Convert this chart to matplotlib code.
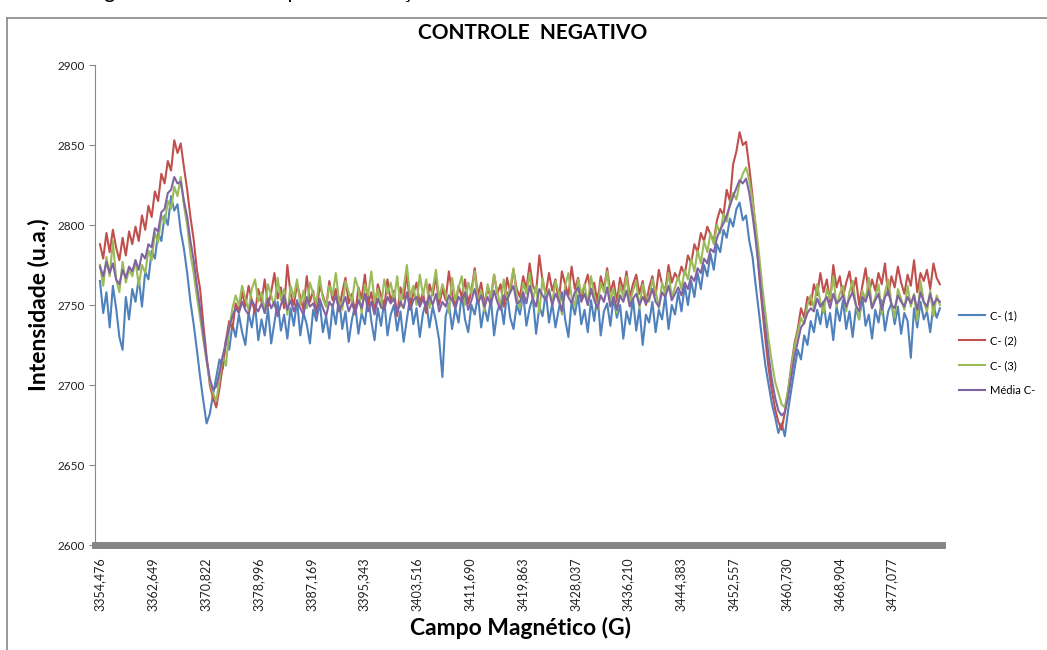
import numpy as np
import matplotlib
matplotlib.use("Agg")
from matplotlib import pyplot as plt
from matplotlib.lines import Line2D

plt.rcParams['font.family'] = ['Lato', 'DejaVu Sans']

# campo magnetico: primeiro ponto e passo (G)
field_start = 3354.476
field_step = 0.5

tick_fields = [3354.476, 3362.649, 3370.822, 3378.996, 3387.169, 3395.343,
               3403.516, 3411.690, 3419.863, 3428.037, 3436.210, 3444.383,
               3452.557, 3460.730, 3468.904, 3477.077]

c1 = [2765, 2745, 2758, 2736, 2762, 2748, 2730, 2722, 2755, 2741,
      2760, 2752, 2767, 2749, 2771, 2766, 2784, 2779, 2795, 2790,
      2806, 2800, 2818, 2809, 2813, 2796, 2785, 2770, 2752, 2738,
      2722, 2705, 2690, 2676, 2682, 2694, 2705, 2716, 2710, 2728,
      2722, 2738, 2730, 2744, 2733, 2725, 2745, 2736, 2750, 2728,
      2741, 2731, 2748, 2726, 2739, 2752, 2734, 2744, 2729, 2748,
      2737, 2753, 2731, 2745, 2738, 2726, 2747, 2740, 2752, 2733,
      2743, 2729, 2749, 2738, 2755, 2735, 2746, 2727, 2741, 2750,
      2732, 2745, 2738, 2756, 2740, 2728, 2748, 2737, 2753, 2731,
      2744, 2750, 2734, 2746, 2727, 2741, 2755, 2738, 2748, 2730,
      2745, 2752, 2736, 2749, 2740, 2728, 2705, 2743, 2751, 2735,
      2748, 2739, 2757, 2741, 2733, 2750, 2744, 2756, 2736, 2749,
      2740, 2754, 2731, 2746, 2752, 2738, 2758, 2742, 2735, 2750,
      2744, 2757, 2737, 2748, 2755, 2732, 2749, 2743, 2758, 2739,
      2751, 2736, 2747, 2758, 2741, 2730, 2752, 2744, 2756, 2738,
      2747, 2733, 2753, 2740, 2757, 2731, 2746, 2751, 2737, 2755,
      2742, 2750, 2729, 2746, 2738, 2754, 2734, 2748, 2725, 2744,
      2739, 2752, 2733, 2747, 2741, 2756, 2735, 2750, 2744, 2758,
      2746, 2762, 2750, 2765, 2755, 2770, 2760, 2775, 2768, 2782,
      2772, 2788, 2783, 2797, 2792, 2804, 2799, 2810, 2814, 2803,
      2806, 2790, 2780, 2762, 2745, 2728, 2712, 2700, 2688, 2680,
      2670, 2676, 2668, 2684, 2697, 2710, 2722, 2716, 2731, 2725,
      2740, 2733, 2747, 2738, 2752, 2736, 2745, 2728, 2749, 2740,
      2753, 2735, 2746, 2730, 2748, 2741, 2755, 2737, 2744, 2729,
      2747, 2739, 2753, 2734, 2746, 2751, 2738, 2749, 2732, 2745,
      2740, 2717, 2748, 2736, 2752, 2741, 2746, 2733, 2750, 2742,
      2748]

c2 = [2788, 2779, 2795, 2783, 2797, 2786, 2778, 2792, 2781, 2796,
      2788, 2799, 2790, 2806, 2797, 2812, 2805, 2821, 2815, 2832,
      2826, 2840, 2834, 2853, 2845, 2851, 2836, 2822, 2805, 2791,
      2772, 2760, 2738, 2718, 2700, 2692, 2686, 2698, 2712, 2728,
      2740, 2735, 2751, 2746, 2758, 2749, 2762, 2753, 2745, 2760,
      2752, 2766, 2749, 2758, 2770, 2754, 2761, 2748, 2775, 2757,
      2750, 2763, 2755, 2747, 2768, 2752, 2759, 2744, 2762, 2756,
      2749, 2765, 2753, 2760, 2746, 2758, 2767, 2751, 2757, 2744,
      2761, 2754, 2769, 2750, 2758, 2745, 2763, 2756, 2748, 2766,
      2752, 2759, 2743, 2761, 2754, 2770, 2749, 2757, 2764, 2751,
      2758, 2745, 2763, 2756, 2768, 2750, 2760, 2753, 2771, 2757,
      2748, 2762, 2755, 2766, 2751, 2759, 2773, 2756, 2764, 2750,
      2761, 2754, 2769, 2757, 2763, 2749, 2767, 2758, 2772, 2760,
      2755, 2768, 2760, 2776, 2762, 2758, 2781, 2765, 2757, 2770,
      2759, 2766, 2752, 2771, 2763, 2756, 2774, 2760, 2767, 2754,
      2762, 2769, 2757, 2764, 2751, 2768, 2760, 2773, 2758, 2765,
      2752, 2767, 2759, 2771, 2755, 2763, 2769, 2757, 2765, 2750,
      2761, 2768, 2756, 2772, 2763, 2759, 2775, 2764, 2770, 2766,
      2774, 2769, 2781, 2776, 2788, 2783, 2795, 2790, 2799, 2794,
      2790, 2803, 2810, 2806, 2822, 2815, 2838, 2846, 2858, 2850,
      2852, 2836, 2818, 2796, 2770, 2748, 2728, 2710, 2696, 2685,
      2677, 2672, 2683, 2696, 2712, 2726, 2735, 2748, 2742, 2755,
      2750, 2763, 2756, 2770, 2758, 2766, 2752, 2775, 2761, 2768,
      2755, 2764, 2771, 2758, 2767, 2750, 2762, 2773, 2757, 2766,
      2759, 2770, 2763, 2776, 2756, 2768, 2761, 2774, 2764, 2757,
      2769, 2762, 2778, 2758, 2770, 2765, 2772, 2760, 2776, 2767,
      2763]

c3 = [2775, 2762, 2780, 2768, 2790, 2766, 2758, 2777, 2764, 2772,
      2768, 2778, 2762, 2775, 2770, 2784, 2778, 2795, 2789, 2806,
      2801, 2815, 2810, 2824, 2818, 2830, 2812, 2800, 2782, 2770,
      2755, 2742, 2728, 2715, 2702, 2695, 2690, 2703, 2718, 2712,
      2735, 2748, 2756, 2750, 2762, 2754, 2747, 2760, 2766, 2752,
      2758, 2745, 2763, 2756, 2749, 2767, 2753, 2760, 2744, 2762,
      2755, 2766, 2750, 2759, 2748, 2764, 2757, 2751, 2768, 2754,
      2749, 2762, 2756, 2770, 2753, 2747, 2765, 2758, 2752, 2767,
      2760, 2745, 2763, 2756, 2771, 2752, 2760, 2748, 2766, 2757,
      2764, 2753, 2768, 2749, 2761, 2775, 2755, 2762, 2750, 2769,
      2756, 2766, 2748, 2760, 2772, 2754, 2763, 2757, 2745, 2767,
      2753, 2761, 2768, 2750, 2764, 2757, 2771, 2752, 2759, 2746,
      2763, 2755, 2769, 2758, 2749, 2766, 2752, 2761, 2773, 2756,
      2748, 2764, 2757, 2770, 2753, 2762, 2745, 2767, 2756, 2760,
      2751, 2765, 2758, 2744, 2762, 2770, 2755, 2749, 2766, 2757,
      2763, 2750, 2768, 2756, 2747, 2764, 2758, 2771, 2753, 2760,
      2745, 2762, 2755, 2768, 2751, 2759, 2765, 2748, 2763, 2756,
      2752, 2766, 2759, 2748, 2764, 2757, 2770, 2755, 2761, 2768,
      2760, 2772, 2766, 2779, 2771, 2784, 2776, 2790, 2783, 2795,
      2788, 2800, 2795, 2807, 2802, 2814, 2820, 2816, 2826, 2832,
      2836, 2828, 2815, 2800, 2782, 2762, 2745, 2728, 2714, 2702,
      2695, 2688, 2686, 2697, 2710, 2724, 2733, 2742, 2738, 2750,
      2756, 2748, 2763, 2752, 2745, 2760, 2754, 2768, 2749, 2757,
      2762, 2746, 2758, 2765, 2750, 2741, 2759, 2753, 2767, 2748,
      2755, 2763, 2744, 2758, 2766, 2751, 2742, 2760, 2754, 2747,
      2762, 2749, 2757, 2740, 2765, 2752, 2746, 2759, 2743, 2756,
      2750]

media = [2774, 2768, 2777, 2770, 2776, 2766, 2763, 2772, 2767, 2774,
         2771, 2778, 2772, 2782, 2779, 2788, 2786, 2798, 2796, 2808,
         2810, 2820, 2822, 2830, 2826, 2827, 2815, 2805, 2790, 2778,
         2762, 2748, 2732, 2716, 2704, 2697, 2699, 2708, 2718, 2727,
         2736, 2743, 2748, 2745, 2752, 2747, 2744, 2753, 2749, 2746,
         2751, 2745, 2754, 2748, 2752, 2743, 2750, 2756, 2747, 2753,
         2746, 2752, 2748, 2744, 2755, 2749, 2751, 2745, 2754, 2748,
         2743, 2752, 2749, 2756, 2747, 2750, 2755, 2746, 2751, 2745,
         2753, 2748, 2757, 2746, 2752, 2744, 2754, 2749, 2747, 2755,
         2751, 2754, 2745, 2752, 2748, 2758, 2747, 2753, 2755, 2749,
         2754, 2748, 2756, 2750, 2757, 2746, 2752, 2749, 2756, 2753,
         2748, 2755, 2752, 2758, 2747, 2753, 2760, 2751, 2756, 2749,
         2755, 2750, 2759, 2752, 2747, 2756, 2753, 2758, 2762, 2751,
         2752, 2758, 2751, 2762, 2754, 2749, 2760, 2756, 2753, 2759,
         2750, 2757, 2753, 2746, 2759, 2755, 2751, 2758, 2761, 2752,
         2757, 2750, 2760, 2753, 2748, 2756, 2752, 2761, 2749, 2755,
         2747, 2756, 2752, 2759, 2749, 2754, 2757, 2750, 2755, 2751,
         2754, 2760, 2752, 2749, 2758, 2755, 2762, 2753, 2757, 2761,
         2756, 2764, 2760, 2768, 2765, 2773, 2770, 2779, 2776, 2785,
         2783, 2792, 2797, 2801, 2806, 2812, 2818, 2823, 2828, 2826,
         2829, 2820, 2806, 2790, 2772, 2752, 2735, 2718, 2703, 2692,
         2684, 2681, 2683, 2692, 2705, 2718, 2727, 2736, 2739, 2745,
         2748, 2746, 2754, 2749, 2752, 2755, 2748, 2757, 2751, 2753,
         2756, 2749, 2754, 2758, 2750, 2746, 2755, 2752, 2759, 2748,
         2753, 2757, 2747, 2755, 2759, 2750, 2748, 2756, 2752, 2749,
         2755, 2751, 2756, 2747, 2758, 2752, 2749, 2757, 2750, 2754,
         2752]

series_names = ['C- (1)', 'C- (2)', 'C- (3)', 'Média C-']
series_colors = ['#4F81BD', '#C0504D', '#9BBB59', '#8064A2']

field = field_start + field_step * np.arange(len(c1))

fig = plt.figure(figsize=(10.47, 6.5), dpi=100)
ax = fig.add_axes([0.0907, 0.1615, 0.809, 0.7385])

for vals, name, col in zip([c1, c2, c3, media], series_names, series_colors):
    ax.plot(field, vals, color=col, lw=1.5, label=name)

ax.set_ylim(2600, 2900)
ax.set_yticks(np.arange(2600, 2901, 50))
ax.set_xlim(3353.7, 3484.8)
ax.set_xticks(tick_fields)
ax.set_xticklabels([f"{t:.3f}".replace('.', ',') for t in tick_fields],
                   rotation=90, fontsize=9, color='#222222')
ax.tick_params(axis='x', length=0, pad=9)
ax.tick_params(axis='y', direction='out', length=4, width=0.8, color='#888888',
               labelsize=8.5, labelcolor='#222222', pad=3)

for s in ['top', 'right']:
    ax.spines[s].set_visible(False)
ax.spines['left'].set_color('#888888')
ax.spines['left'].set_linewidth(0.8)
ax.spines['bottom'].set_color('#858585')
ax.spines['bottom'].set_linewidth(5)
ax.spines['bottom'].set_zorder(5)

ax.set_ylabel('Intensidade (u.a.)', fontsize=16.5, fontweight='bold', labelpad=6)
fig.text(520 / 1047, 1 - 628 / 650, 'Campo Magnético (G)', fontsize=16.5,
         fontweight='bold', ha='center', va='center')
fig.text(533 / 1047, 1 - 33 / 650, 'CONTROLE  NEGATIVO', fontsize=15,
         fontweight='bold', ha='center', va='center')

leg = ax.legend(loc='center left', bbox_to_anchor=(1.012, 0.4), frameon=False,
                fontsize=8, handlelength=2.4, labelspacing=1.25,
                handletextpad=0.4, borderaxespad=0.2)

# moldura da figura e texto cortado no topo
fig.add_artist(Line2D([7 / 1047, 7 / 1047], [0, 1 - 18 / 650],
                      color='#888888', lw=1.2))
fig.add_artist(Line2D([7 / 1047, 1], [1 - 18 / 650, 1 - 18 / 650],
                      color='#888888', lw=1.2))
fig.text(0.0, 1 + 2 / 650, 'controle negativo EPR sem tempo de irradiação',
         fontsize=15, ha='left', va='baseline')

fig.savefig('out.png', dpi=100)
